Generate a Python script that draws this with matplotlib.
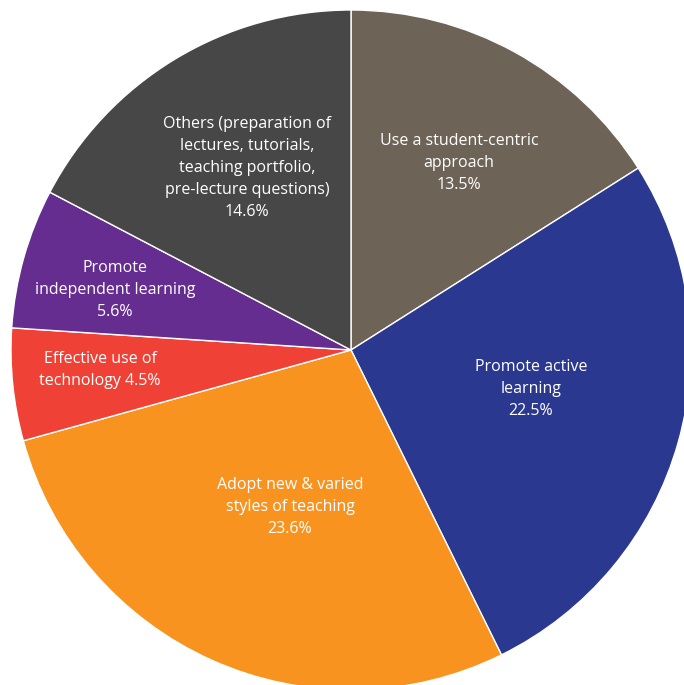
import numpy as np
import matplotlib
matplotlib.use('Agg')
import matplotlib.pyplot as plt

## data

labels = ['Use a student-centric\napproach\n13.5%',
          'Promote active\nlearning\n22.5%',
          'Adopt new & varied\nstyles of teaching\n23.6%',
          'Effective use of\ntechnology 4.5%',
          'Promote\nindependent learning\n5.6%',
          'Others (preparation of\nlectures, tutorials,\nteaching portfolio,\npre-lecture questions)\n14.6%']
values = [13.5, 22.5, 23.6, 4.5, 5.6, 14.6]
colors = ['#6d6357', '#2b388f', '#f7931e', '#ef4136', '#662d91', '#474748']

# label anchor (pixel offsets from the centre, y up)
label_pos = [(108, 187), (180, -39), (-61, -157), (-251, -20), (-236, 60), (-104, 182)]

## plot

plt.rcParams['font.family'] = ['Open Sans', 'DejaVu Sans']

fig = plt.figure(figsize=(6.84, 6.85), dpi=100)
ax = fig.add_axes([0, 0, 1, 1])

wedges, _ = ax.pie(values, colors=colors, startangle=90, counterclock=False,
                   radius=340, center=(0, 0), frame=True,
                   wedgeprops=dict(edgecolor='white', linewidth=1.0))
# pie is a bit cropped on the right and bottom, like the original
ax.set_xlim(-351, 684 - 351)
ax.set_ylim(-(685 - 350), 350)
ax.set_aspect('equal')
ax.axis('off')

for lab, (x, y) in zip(labels, label_pos):
    ax.text(x, y, lab, ha='center', va='center', color='white',
            fontsize=11.5, linespacing=1.49)

fig.savefig('out.png', dpi=100)
